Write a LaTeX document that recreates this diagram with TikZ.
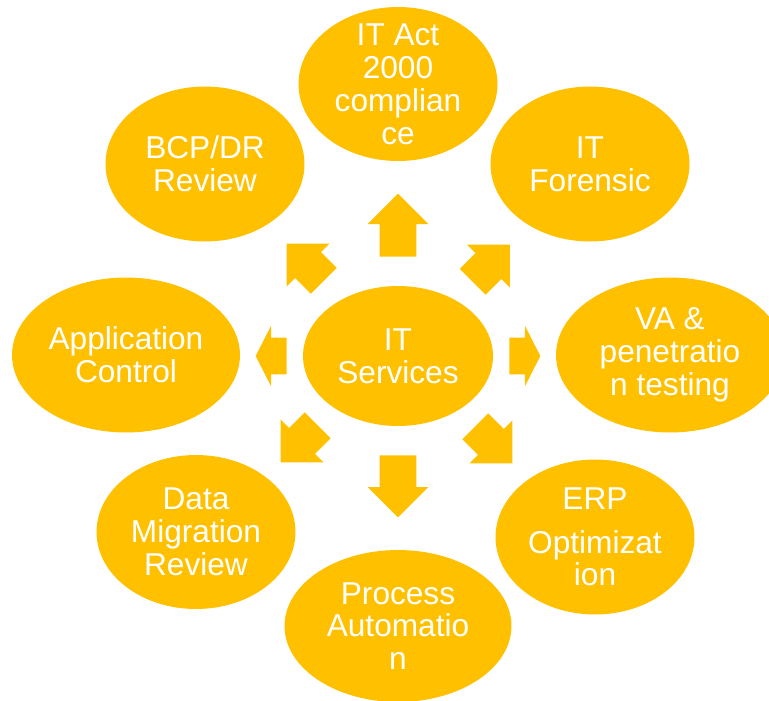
\documentclass[tikz,border=0pt]{standalone}
\usepackage{fontspec}
\setmainfont{Liberation Sans}
\usetikzlibrary{shapes.geometric,shapes.arrows}
\definecolor{itgold}{RGB}{255,192,0}
\tikzset{
  topic/.style={ellipse, fill=itgold, inner sep=0pt},
  every label/.style={text=white, align=center, font=\fontsize{18}{18.7}\selectfont},
  bigarrow/.style={single arrow, fill=itgold, inner xsep=0pt, inner ysep=0.36cm,
    single arrow head extend=0.24cm, anchor=tail},
  sidearrow/.style={bigarrow, single arrow tip angle=126, minimum height=0.62cm}
}

\begin{document}
\begin{tikzpicture}[x=0.02cm, y=-0.02cm]
	\useasboundingbox (0,0) rectangle (769,701);
	\node[topic, minimum width=3.8cm, minimum height=2.8cm, label=center:{IT\\Services}] (srv) at (398,356) {};
	\node[topic, minimum width=3.98cm, minimum height=3.08cm, label=center:{IT Act\\2000\\complian\\ce}] (act) at (398,84) {};
	\node[topic, minimum width=3.98cm, minimum height=3.1cm, label=center:{BCP/DR\\Review}] (bcp) at (205,164) {};
	\node[topic, minimum width=3.98cm, minimum height=3.1cm, label=center:{IT\\Forensic}] (fore) at (590,164) {};
	\node[topic, minimum width=4.56cm, minimum height=3.1cm, label=center:{Application\\Control}] (app) at (126,355) {};
	\node[topic, minimum width=4.56cm, minimum height=3.1cm, label=center:{VA \&\\penetratio\\n testing}] (vapt) at (670,355) {};
	\node[topic, minimum width=3.98cm, minimum height=3.08cm, label=center:{Data\\Migration\\Review}] (dmr) at (196,532) {};
	\node[topic, minimum width=3.98cm, minimum height=3.1cm, label=center:{ERP\\[6pt]Optimizat\\ion}] (erp) at (595,537) {};
	\node[topic, minimum width=4.54cm, minimum height=3.04cm, label=center:{Process\\Automatio\\n}] (proc) at (398,626) {};
	\node[bigarrow, minimum height=1.26cm, rotate=90] (aup) at (398,257) {};
	\node[bigarrow, minimum height=1.24cm, rotate=-90] (adown) at (398,455) {};
	\node[sidearrow, rotate=180] (aleft) at (287,356) {};
	\node[sidearrow] (aright) at (509,356) {};
	\node[bigarrow, minimum height=1.05cm, rotate=135] (anw) at (324,281) {};
	\node[bigarrow, minimum height=1.05cm, rotate=45] (ane) at (472.5,282) {};
	\node[bigarrow, minimum height=1.05cm, rotate=-135] (asw) at (318,425) {};
	\node[bigarrow, minimum height=1.05cm, rotate=-45] (ase) at (475,426) {};
\end{tikzpicture}
\end{document}
